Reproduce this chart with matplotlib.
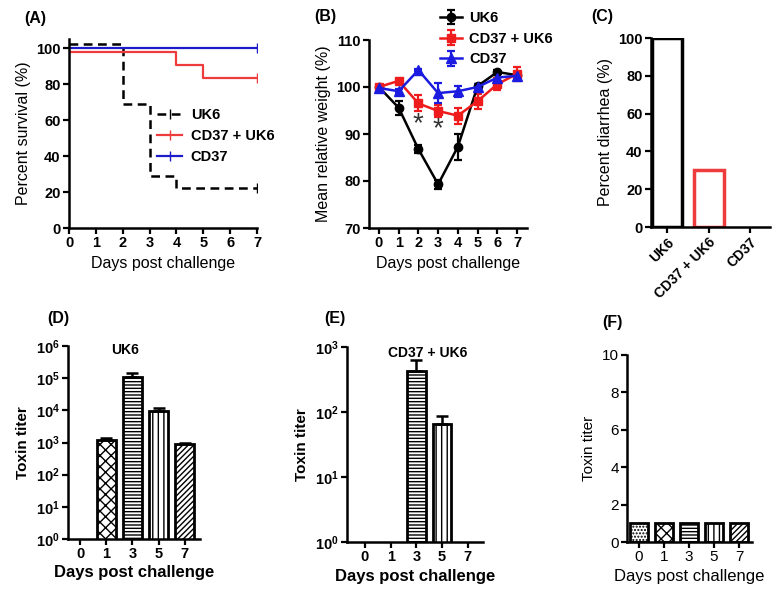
import numpy as np
import matplotlib
matplotlib.use("Agg")
import matplotlib.pyplot as plt
from matplotlib.ticker import FixedLocator, NullLocator

plt.rcParams['font.family'] = ['Liberation Sans', 'DejaVu Sans']
plt.rcParams['hatch.linewidth'] = 1.0
plt.rcParams['axes.linewidth'] = 1.8
plt.rcParams['xtick.major.width'] = 1.6
plt.rcParams['ytick.major.width'] = 1.6
plt.rcParams['xtick.major.size'] = 4
plt.rcParams['ytick.major.size'] = 4

# (A) survival, step points (day, %)
surv_days_uk6 = [0, 2, 3, 4, 7]
surv_uk6 = [102, 69, 29, 22, 22]
surv_days_combo = [0, 4, 5, 7]
surv_combo = [97.5, 90.7, 83.4, 83.4]
surv_days_cd37 = [0, 7]
surv_cd37 = [100, 100]

# (B) mean relative weight (%)
weight_days = [0, 1, 2, 3, 4, 5, 6, 7]
weight_uk6 = [100, 95.6, 86.8, 79.3, 87.3, 100.2, 103.2, 102.5]
weight_uk6_err = [0.3, 1.5, 0.8, 1.0, 2.8, 0.5, 0.5, 0.5]
weight_combo = [100, 101.3, 96.5, 94.9, 93.9, 97.0, 100.6, 102.8]
weight_combo_err = [0.3, 0.4, 1.7, 1.3, 1.7, 1.6, 1.3, 1.5]
weight_cd37 = [99.8, 99.1, 103.6, 98.7, 99.1, 100.0, 102.0, 102.4]
weight_cd37_err = [0.3, 0.4, 0.3, 2.2, 1.2, 0.7, 0.6, 0.5]
star_days = [2, 3]
star_y = [92.0, 91.0]

# (C) percent diarrhea
diarrhea_groups = ['UK6', 'CD37 + UK6', 'CD37']
diarrhea_pct = [100, 30, 0]

# (D)-(F) toxin titer by day
titer_days = ['0', '1', '3', '5', '7']
titer_uk6 = [0, 1180, 1.05e5, 9700, 890]
titer_uk6_err = [0, 250, 45000, 1800, 80]
titer_combo = [0, 0, 420, 65, 0]
titer_combo_err = [0, 0, 210, 22, 0]
titer_cd37 = [1, 1, 1, 1, 1]

hatches = ['.....', 'xxx', '-----', '|||', '//////']

TICK = 10.5
LAB = 11.5

fig = plt.figure(figsize=(7.8, 5.98), dpi=100)
W, H = 780, 598


def add_ax(x0, y0, x1, y1):
    return fig.add_axes([x0 / W, 1 - y1 / H, (x1 - x0) / W, (y1 - y0) / H])


def style(ax):
    for s in ['top', 'right']:
        ax.spines[s].set_visible(False)
    ax.tick_params(labelsize=TICK, pad=2)
    for lab in ax.get_xticklabels() + ax.get_yticklabels():
        lab.set_fontweight('bold')


# ---- (A)
ax = add_ax(69, 39, 257, 228)
ax.step(surv_days_uk6, surv_uk6, where='post', color='black', ls=(0, (3.5, 2.2)),
        lw=1.8, label='UK6', marker='|', markevery=[-1], ms=7)
ax.step(surv_days_combo, surv_combo, where='post', color='#ee3b3b', lw=1.6,
        label='CD37 + UK6', marker='|', markevery=[-1], ms=7)
ax.step(surv_days_cd37, surv_cd37, where='post', color='#1c1cc8', lw=1.6,
        label='CD37', marker='|', markevery=[-1], ms=7)
ax.set_xlim(0, 7)
ax.set_ylim(0, 105)
ax.set_xticks(range(8))
ax.set_yticks([0, 20, 40, 60, 80, 100])
ax.set_xlabel('Days post challenge', fontsize=LAB)
ax.set_ylabel('Percent survival (%)', fontsize=LAB)
style(ax)
leg = ax.legend(loc='upper left', bbox_to_anchor=(0.43, 0.675), frameon=False,
                fontsize=10.5, handlelength=1.7, labelspacing=0.5, borderpad=0,
                handletextpad=0.6)
for t in leg.get_texts():
    t.set_fontweight('bold')
fig.text(24 / W, 1 - 18 / H, '(A)', fontsize=LAB, fontweight='bold', va='center')

# ---- (B)
ax = add_ax(369, 40, 527, 228)
ax.errorbar(weight_days, weight_uk6, yerr=weight_uk6_err, color='black', marker='o',
            ms=6, lw=1.8, capsize=3, elinewidth=1.6, capthick=1.6, label='UK6')
ax.errorbar(weight_days, weight_combo, yerr=weight_combo_err, color='#ee1c1c', marker='s',
            ms=6, lw=1.8, capsize=3, elinewidth=1.6, capthick=1.6, label='CD37 + UK6')
ax.errorbar(weight_days, weight_cd37, yerr=weight_cd37_err, color='#1c1ce0', marker='^',
            ms=6.5, lw=1.8, capsize=3, elinewidth=1.6, capthick=1.6, label='CD37')
for d, y in zip(star_days, star_y):
    ax.text(d, y, '*', ha='center', va='center', fontsize=20, color='#333333')
ax.set_xlim(-0.5, 7.5)
ax.set_ylim(70, 110)
ax.set_xticks(range(8))
ax.set_yticks([70, 80, 90, 100, 110])
ax.set_xlabel('Days post challenge', fontsize=LAB)
ax.set_ylabel('Mean relative weight (%)', fontsize=LAB)
style(ax)
leg = fig.legend(*ax.get_legend_handles_labels(), loc='upper left',
                 bbox_to_anchor=(433 / W, 1 - 4 / H), frameon=False,
                 fontsize=10.5, handlelength=1.5, labelspacing=0.45, borderpad=0,
                 handletextpad=0.5)
for t in leg.get_texts():
    t.set_fontweight('bold')
fig.text(314 / W, 1 - 16 / H, '(B)', fontsize=LAB, fontweight='bold', va='center')

# ---- (C)
ax = add_ax(651, 38, 770, 227)
xc = np.arange(len(diarrhea_groups))
ax.bar(xc, diarrhea_pct, width=0.72, color='white',
       edgecolor=['black', '#ee3b3b', 'white'], linewidth=2.5)
ax.set_xlim(-0.39, 2.48)
ax.set_ylim(0, 100)
ax.set_xticks(xc)
ax.set_xticklabels(diarrhea_groups, rotation=45, ha='right', rotation_mode='anchor')
ax.set_yticks([0, 20, 40, 60, 80, 100])
ax.set_ylabel('Percent diarrhea (%)', fontsize=LAB)
style(ax)
for lab in ax.get_xticklabels():
    lab.set_fontsize(10)
fig.text(591 / W, 1 - 16 / H, '(C)', fontsize=LAB, fontweight='bold', va='center')


def titer_panel(box, values, errs, title, label_x, label_y, panel, bold_labels):
    ax = add_ax(*box)
    xd = np.arange(len(titer_days))
    vals = np.array(values, dtype=float)
    errs = np.array(errs, dtype=float)
    for i in xd:
        if vals[i] <= 0:
            continue
        ax.bar(i, vals[i], width=0.72, color='white', edgecolor='black',
               linewidth=2, hatch=hatches[i])
        if errs[i] > 0:
            ax.errorbar(i, vals[i], yerr=[[0], [errs[i]]], color='black',
                        capsize=4, elinewidth=1.8, capthick=1.8)
    ax.set_xticks(xd)
    ax.set_xticklabels(titer_days)
    w = 'bold' if bold_labels else 'normal'
    ax.set_xlabel('Days post challenge', fontsize=12, fontweight=w, labelpad=3)
    ax.set_ylabel('Toxin titer', fontsize=11, fontweight=w)
    if title:
        ax.text(title[0], title[1], title[2], transform=ax.transAxes, ha='center',
                va='center', fontsize=10, fontweight='bold')
    fig.text(label_x / W, 1 - label_y / H, panel, fontsize=LAB, fontweight='bold', va='center')
    return ax


# ---- (D)
ax = titer_panel((68, 346, 200, 539), titer_uk6, titer_uk6_err,
                 (0.43, 0.98, 'UK6'), 47, 318, '(D)', True)
ax.set_yscale('log')
ax.set_ylim(1, 1e6)
ax.set_xlim(-0.46, 4.58)
ax.yaxis.set_major_locator(FixedLocator([10 ** k for k in range(7)]))
ax.yaxis.set_minor_locator(NullLocator())
style(ax)

# ---- (E)
ax = titer_panel((347, 347, 483, 542), titer_combo, titer_combo_err,
                 (0.59, 0.97, 'CD37 + UK6'), 324, 319, '(E)', True)
ax.set_yscale('log')
ax.set_ylim(1, 1e3)
ax.set_xlim(-0.7, 4.59)
ax.yaxis.set_major_locator(FixedLocator([10 ** k for k in range(4)]))
ax.yaxis.set_minor_locator(NullLocator())
style(ax)

# ---- (F)
ax = titer_panel((627, 355, 752, 542), titer_cd37, [0] * 5,
                 None, 602, 322, '(F)', False)
ax.set_ylim(0, 10)
ax.set_xlim(-0.48, 4.52)
ax.set_yticks([0, 2, 4, 6, 8, 10])
style(ax)
for lab in ax.get_xticklabels() + ax.get_yticklabels():
    lab.set_fontweight('normal')
    lab.set_fontsize(11)

fig.savefig('out.png', dpi=100)
